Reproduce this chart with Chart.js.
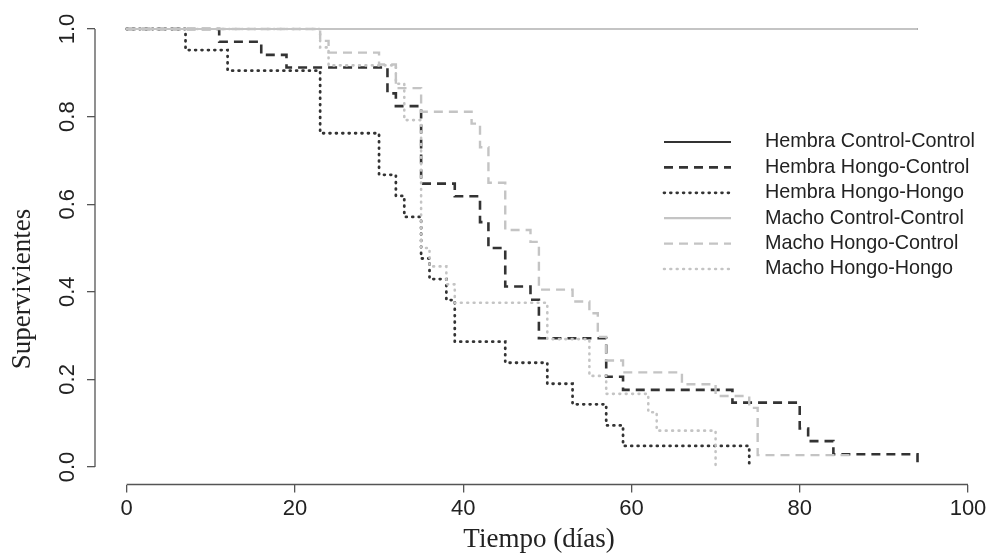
<!DOCTYPE html>
<html>
<head>
<meta charset="utf-8">
<title>Supervivientes</title>
<script src="https://cdn.jsdelivr.net/npm/chart.js@4"></script>
<style>
  html, body { margin: 0; padding: 0; background: #fff; }
  #wrap { width: 992px; height: 556px; }
</style>
</head>
<body>
<div id="wrap"><canvas id="supervivencia" width="992" height="556"></canvas></div>
<script>
// Curvas de supervivencia por sexo y tratamiento
const nombres = [
  'Hembra Control-Control',
  'Hembra Hongo-Control',
  'Hembra Hongo-Hongo',
  'Macho Control-Control',
  'Macho Hongo-Control',
  'Macho Hongo-Hongo'
];

const hembraCCDias = [0, 94];
const hembraCCSuperv = [1, 1];

const hembraHCDias = [0, 11, 16, 19, 31, 32, 35, 39, 42, 43, 45, 48, 49, 57, 59, 72, 80, 81, 84, 94];
const hembraHCSuperv = [1, 0.971, 0.941, 0.912, 0.853, 0.824, 0.647, 0.618, 0.559, 0.5, 0.412, 0.382, 0.294, 0.206, 0.176, 0.147, 0.088, 0.059, 0.029, 0];

const hembraHHDias = [0, 7, 12, 23, 30, 32, 33, 35, 36, 38, 39, 45, 50, 53, 57, 59, 74];
const hembraHHSuperv = [1, 0.952, 0.905, 0.762, 0.667, 0.619, 0.571, 0.476, 0.429, 0.381, 0.286, 0.238, 0.19, 0.143, 0.095, 0.048, 0];

const machoCCDias = [0, 94];
const machoCCSuperv = [1, 1];

const machoHCDias = [0, 23, 24, 30, 32, 35, 41, 42, 43, 45, 48, 49, 53, 55, 56, 57, 59, 66, 70, 74, 75, 86];
const machoHCSuperv = [1, 0.973, 0.946, 0.919, 0.865, 0.811, 0.784, 0.73, 0.649, 0.541, 0.514, 0.405, 0.378, 0.351, 0.297, 0.243, 0.216, 0.189, 0.162, 0.135, 0.027, 0.027];

const machoHHDias = [0, 23, 24, 32, 33, 35, 36, 38, 39, 50, 55, 57, 62, 63, 70];
const machoHHSuperv = [1, 0.958, 0.917, 0.875, 0.792, 0.5, 0.458, 0.417, 0.375, 0.292, 0.208, 0.167, 0.125, 0.083, 0];

const xTicks = [0, 20, 40, 60, 80, 100];
const yTicks = [0, 0.2, 0.4, 0.6, 0.8, 1.0];

const oscuro = '#333333';
const claro = '#c4c4c4';
const ejeColor = '#555555';

function puntos(dias, superv) {
  return dias.map(function(d, i) { return { x: d, y: superv[i] }; });
}

// estilo de cada curva: color, trazo, ancho
const estilos = [
  { color: oscuro, dash: [], cap: 'butt', ancho: 2.2 },
  { color: oscuro, dash: [9, 6], cap: 'butt', ancho: 2.6 },
  { color: oscuro, dash: [0.8, 5.6], cap: 'round', ancho: 2.8 },
  { color: claro, dash: [], cap: 'butt', ancho: 2.2 },
  { color: claro, dash: [9, 6], cap: 'butt', ancho: 2.4 },
  { color: claro, dash: [0.8, 5.6], cap: 'round', ancho: 2.6 }
];

const datosSeries = [
  puntos(hembraCCDias, hembraCCSuperv),
  puntos(hembraHCDias, hembraHCSuperv),
  puntos(hembraHHDias, hembraHHSuperv),
  puntos(machoCCDias, machoCCSuperv),
  puntos(machoHCDias, machoHCSuperv),
  puntos(machoHHDias, machoHHSuperv)
];

const datasets = nombres.map(function(nombre, i) {
  return {
    label: nombre,
    data: datosSeries[i],
    borderColor: estilos[i].color,
    borderDash: estilos[i].dash,
    borderCapStyle: estilos[i].cap,
    borderWidth: estilos[i].ancho,
    stepped: true,
    pointRadius: 0,
    fill: false,
    order: 6 - i
  };
});

// lineas de eje estilo R (solo entre primer y ultimo tick), titulos y leyenda
const extras = {
  id: 'extras',
  afterDraw: function(chart) {
    const ctx = chart.ctx;
    const xs = chart.scales.x;
    const ys = chart.scales.y;
    const area = chart.chartArea;

    ctx.save();
    ctx.strokeStyle = ejeColor;
    ctx.lineWidth = 1.3;
    ctx.beginPath();
    ctx.moveTo(xs.getPixelForValue(xTicks[0]), area.bottom);
    ctx.lineTo(xs.getPixelForValue(xTicks[xTicks.length - 1]), area.bottom);
    ctx.moveTo(area.left, ys.getPixelForValue(yTicks[0]));
    ctx.lineTo(area.left, ys.getPixelForValue(yTicks[yTicks.length - 1]));
    ctx.stroke();

    // titulos de ejes
    ctx.fillStyle = '#222';
    ctx.font = '27px "Liberation Serif"';
    ctx.textAlign = 'center';
    ctx.textBaseline = 'middle';
    ctx.fillText('Tiempo (días)', 539, 540);
    ctx.translate(23, 289);
    ctx.rotate(-Math.PI / 2);
    ctx.fillText('Supervivientes', 0, 0);
    ctx.restore();

    // leyenda
    ctx.save();
    ctx.font = '19.8px "Liberation Sans"';
    ctx.textBaseline = 'middle';
    ctx.textAlign = 'left';
    chart.data.datasets.forEach(function(ds, i) {
      const y = 142 + i * 25.4;
      ctx.strokeStyle = ds.borderColor;
      ctx.lineWidth = ds.borderWidth;
      ctx.lineCap = ds.borderCapStyle;
      ctx.setLineDash(ds.borderDash);
      ctx.beginPath();
      ctx.moveTo(664, y);
      ctx.lineTo(731, y);
      ctx.stroke();
      ctx.setLineDash([]);
      ctx.fillStyle = '#222';
      ctx.fillText(ds.label, 765, y);
    });
    ctx.restore();
  }
};

new Chart(document.getElementById('supervivencia'), {
  type: 'line',
  data: { datasets: datasets },
  options: {
    responsive: false,
    animation: false,
    devicePixelRatio: 1,
    layout: { padding: { left: 0, right: 24, top: 11.5, bottom: 0 } },
    plugins: {
      legend: { display: false },
      tooltip: { enabled: false }
    },
    scales: {
      x: {
        type: 'linear',
        min: -3.76,
        max: 100,
        afterBuildTicks: function(s) { s.ticks = xTicks.map(function(v) { return { value: v }; }); },
        afterFit: function(s) { s.height = 71.5; s.paddingLeft = 0; s.paddingRight = 0; },
        border: { display: false },
        grid: { drawOnChartArea: false, drawTicks: true, tickLength: 8, color: ejeColor, lineWidth: 1.3 },
        ticks: {
          color: '#222',
          padding: 3,
          maxRotation: 0,
          font: { family: 'Liberation Sans', size: 22 },
          callback: function(v) { return String(v); }
        }
      },
      y: {
        type: 'linear',
        min: -0.04,
        max: 1.04,
        afterBuildTicks: function(s) { s.ticks = yTicks.map(function(v) { return { value: v }; }); },
        afterFit: function(s) { s.width = 95; s.paddingTop = 0; s.paddingBottom = 0; },
        border: { display: false },
        grid: { drawOnChartArea: false, drawTicks: true, tickLength: 8, color: ejeColor, lineWidth: 1.3 },
        ticks: {
          color: '#222',
          padding: 4,
          minRotation: 90,
          maxRotation: 90,
          crossAlign: 'center',
          font: { family: 'Liberation Sans', size: 22 },
          callback: function(v) { return v.toFixed(1); }
        }
      }
    }
  },
  plugins: [extras]
});
</script>
</body>
</html>
